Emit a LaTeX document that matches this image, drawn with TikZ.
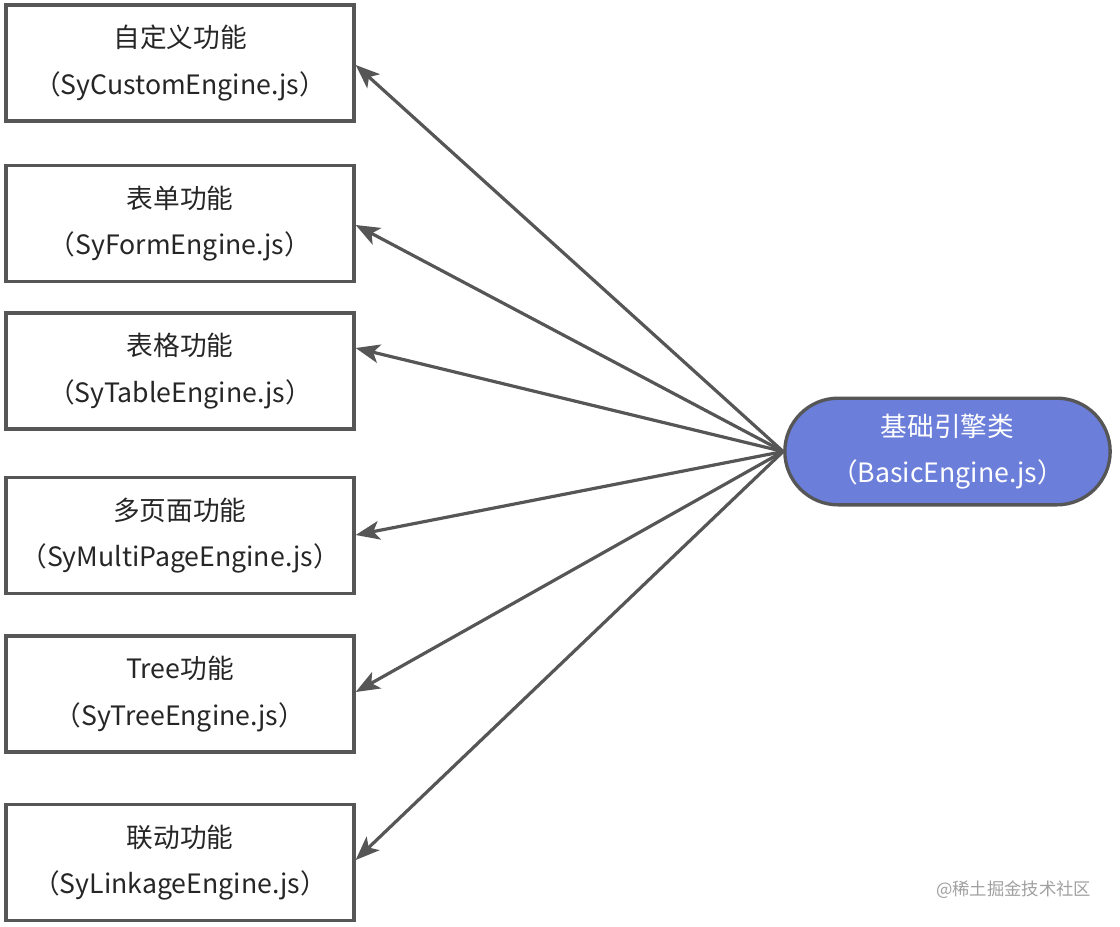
\documentclass[tikz,border=0pt]{standalone}
\usepackage{fontspec}
\setmainfont{Noto Sans CJK SC}
\usetikzlibrary{arrows.meta}
\definecolor{linegray}{HTML}{565656}
\definecolor{engineblue}{HTML}{6B7FDA}
\definecolor{wmgray}{HTML}{A0A0A0}
\tikzset{
  featbox/.style={draw=linegray, line width=2.5pt, fill=white, minimum width=261pt, minimum height=87pt, inner sep=0pt, align=center, font=\fontsize{20}{35}\selectfont, text=black!85},
  engine/.style={draw=linegray, line width=2.5pt, fill=engineblue, rounded corners=40pt, minimum width=244pt, minimum height=80pt, inner sep=0pt, align=center, font=\fontsize{20}{35}\selectfont, text=white},
  link/.style={draw=linegray, line width=2.4pt, -{Stealth[length=18pt, width=14pt, inset=4.5pt]}},
}
\begin{document}
\begin{tikzpicture}[x=0.75pt, y=-0.75pt]
\useasboundingbox (0,0) rectangle (1120,926);
\node[featbox] (f1) at (180,63) {自定义功能\\（SyCustomEngine.js）};
\node[featbox] (f2) at (180,223.5) {表单功能\\（SyFormEngine.js）};
\node[featbox] (f3) at (180,371) {表格功能\\（SyTableEngine.js）};
\node[featbox] (f4) at (180,535.5) {多页面功能\\（SyMultiPageEngine.js）};
\node[featbox] (f5) at (180,694) {Tree功能\\（SyTreeEngine.js）};
\node[featbox] (f6) at (180,862.5) {联动功能\\（SyLinkageEngine.js）};
\node[engine] (be) at (947.5,451.5) {基础引擎类\\（BasicEngine.js）};
\coordinate (src) at (be.west);
\draw[link] (src) -- (f1.east |- 0,65);
\draw[link] (src) -- (f2.east |- 0,225);
\draw[link] (src) -- (f3.east |- 0,348);
\draw[link] (src) -- (f4.east |- 0,535);
\draw[link] (src) -- (f5.east |- 0,692);
\draw[link] (src) -- (f6.east |- 0,860);
\node[text=wmgray, font=\fontsize{13}{15}\selectfont, anchor=east] (wm) at (1096,890) {@稀土掘金技术社区};
\end{tikzpicture}
\end{document}
